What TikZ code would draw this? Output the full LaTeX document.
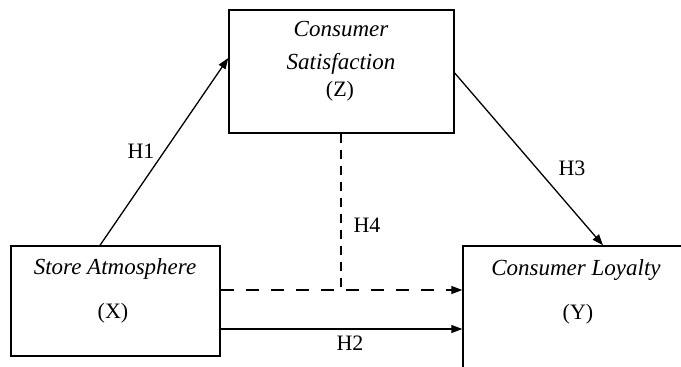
\documentclass[tikz,border=0pt]{standalone}
\usepackage{fontspec}
\setmainfont{Liberation Serif}
\usetikzlibrary{arrows.meta}
\begin{document}
\begin{tikzpicture}[x=1pt,y=-1pt,
  box/.style={draw, line width=1.4pt, rectangle, inner sep=0pt},
  lbl/.style={font=\fontsize{23}{26}\selectfont\itshape, inner sep=0pt, anchor=base},
  var/.style={font=\fontsize{22}{26}\selectfont, inner sep=0pt, anchor=base},
  hyp/.style={font=\fontsize{22}{26}\selectfont, inner sep=0pt},
  arr/.style={line width=1.3pt, -{Triangle[length=11pt,width=8pt]}},
  dsh/.style={line width=1.3pt, dash pattern=on 13pt off 12pt},
  vdsh/.style={line width=1.3pt, dash pattern=on 9pt off 7pt}]
\fill[white] (0,0) rectangle (681,367);
\useasboundingbox (0,0) rectangle (681,367);
\clip (0,0) rectangle (681,367);
% boxes
\node[box, minimum width=225pt, minimum height=123pt] (Z) at (341.5,71.5) {};
\node[box, minimum width=209pt, minimum height=110pt] (X) at (115.5,301) {};
\node[box, minimum width=227pt, minimum height=129pt] (Y) at (576.5,310.5) {};
% texts
\node[lbl] (z1) at (341,36) {Consumer};
\node[lbl] (z2) at (341,69) {Satisfaction};
\node[var] (z3) at (340,96) {(Z)};
\node[lbl] (x1) at (115,274) {Store Atmosphere};
\node[var] (x2) at (113,318) {(X)};
\node[lbl] (y1) at (576,275) {Consumer Loyalty};
\node[var] (y2) at (578,319) {(Y)};
% hypothesis labels
\node[hyp] (h1) at (141,151) {H1};
\node[hyp] (h2) at (350,343) {H2};
\node[hyp] (h3) at (572,168) {H3};
\node[hyp] (h4) at (367,225) {H4};
% connectors
\draw[arr] ([xshift=-15.5pt]X.north) -- ([yshift=13.5pt]Z.west);
\draw[arr] ([yshift=-1.5pt]Z.east) -- ([xshift=26.5pt]Y.north);
\coordinate (j) at (341,290);
\draw[vdsh] ([xshift=-0.5pt]Z.south) -- (j);
\draw[dsh] (X.east |- j) -- ([xshift=-12pt]Y.west |- j);
\draw[arr] ([xshift=-14pt]Y.west |- j) -- (Y.west |- j);
\coordinate (k) at (341,329);
\draw[arr] (X.east |- k) -- (Y.west |- k);
\end{tikzpicture}
\end{document}
